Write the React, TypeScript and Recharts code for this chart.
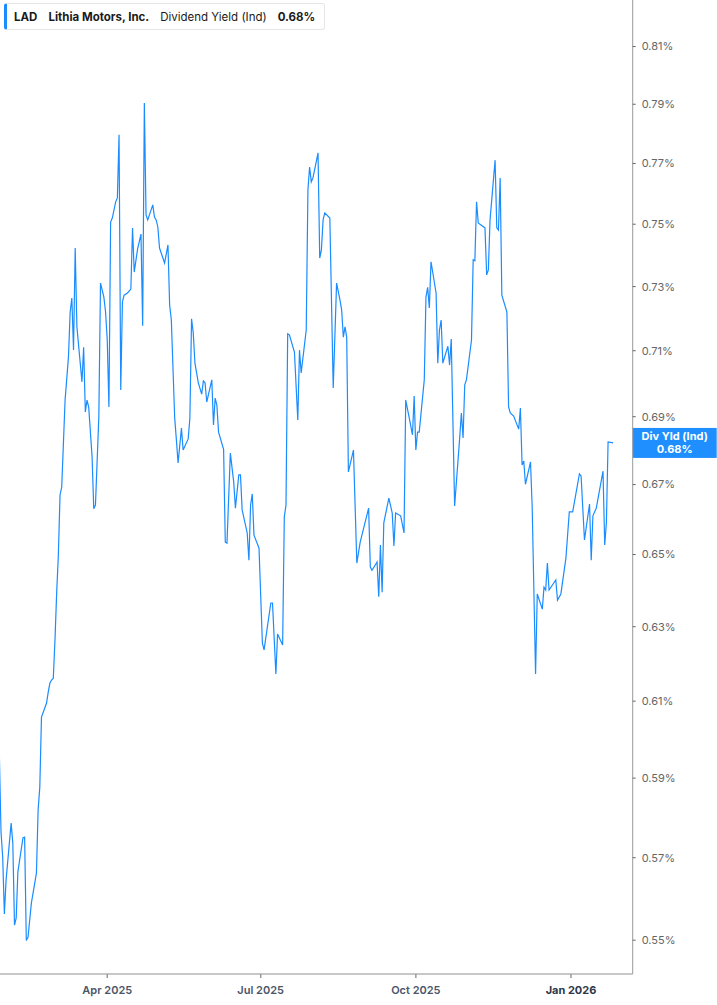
import React from 'react';
import { LineChart, Line, XAxis, YAxis, ReferenceLine } from 'recharts';

const dates = [
  '2025-01-27', '2025-01-28', '2025-01-29', '2025-01-30', '2025-01-31', '2025-02-03', '2025-02-04', '2025-02-05',
  '2025-02-06', '2025-02-07', '2025-02-10', '2025-02-11', '2025-02-12', '2025-02-13', '2025-02-15', '2025-02-18',
  '2025-02-19', '2025-02-20', '2025-02-21', '2025-02-24', '2025-02-25', '2025-02-26', '2025-02-27', '2025-02-28',
  '2025-03-01', '2025-03-02', '2025-03-03', '2025-03-04', '2025-03-05', '2025-03-07', '2025-03-09', '2025-03-10',
  '2025-03-11', '2025-03-12', '2025-03-13', '2025-03-14', '2025-03-17', '2025-03-18', '2025-03-19', '2025-03-20',
  '2025-03-21', '2025-03-23', '2025-03-24', '2025-03-25', '2025-03-27', '2025-03-28', '2025-03-30', '2025-03-31',
  '2025-04-01', '2025-04-02', '2025-04-03', '2025-04-04', '2025-04-06', '2025-04-07', '2025-04-08', '2025-04-09',
  '2025-04-10', '2025-04-11', '2025-04-13', '2025-04-15', '2025-04-16', '2025-04-17', '2025-04-19', '2025-04-21',
  '2025-04-22', '2025-04-23', '2025-04-24', '2025-04-25', '2025-04-28', '2025-04-29', '2025-04-30', '2025-05-01',
  '2025-05-02', '2025-05-05', '2025-05-07', '2025-05-08', '2025-05-09', '2025-05-11', '2025-05-12', '2025-05-13',
  '2025-05-15', '2025-05-16', '2025-05-19', '2025-05-20', '2025-05-21', '2025-05-22', '2025-05-23', '2025-05-25',
  '2025-05-27', '2025-05-28', '2025-05-29', '2025-05-30', '2025-06-02', '2025-06-03', '2025-06-04', '2025-06-05',
  '2025-06-06', '2025-06-09', '2025-06-10', '2025-06-11', '2025-06-13', '2025-06-15', '2025-06-16', '2025-06-18',
  '2025-06-19', '2025-06-20', '2025-06-23', '2025-06-24', '2025-06-25', '2025-06-26', '2025-06-27', '2025-06-30',
  '2025-07-02', '2025-07-03', '2025-07-07', '2025-07-08', '2025-07-10', '2025-07-11', '2025-07-14', '2025-07-15',
  '2025-07-16', '2025-07-17', '2025-07-18', '2025-07-21', '2025-07-23', '2025-07-24', '2025-07-25', '2025-07-28',
  '2025-07-29', '2025-07-30', '2025-07-31', '2025-08-01', '2025-08-04', '2025-08-05', '2025-08-06', '2025-08-07',
  '2025-08-08', '2025-08-11', '2025-08-13', '2025-08-15', '2025-08-17', '2025-08-18', '2025-08-19', '2025-08-20',
  '2025-08-21', '2025-08-22', '2025-08-25', '2025-08-27', '2025-08-29', '2025-09-03', '2025-09-04', '2025-09-05',
  '2025-09-08', '2025-09-09', '2025-09-10', '2025-09-11', '2025-09-12', '2025-09-15', '2025-09-17', '2025-09-18',
  '2025-09-19', '2025-09-22', '2025-09-24', '2025-09-25', '2025-09-27', '2025-09-29', '2025-09-30', '2025-10-01',
  '2025-10-02', '2025-10-03', '2025-10-06', '2025-10-07', '2025-10-08', '2025-10-09', '2025-10-10', '2025-10-13',
  '2025-10-14', '2025-10-15', '2025-10-16', '2025-10-17', '2025-10-20', '2025-10-21', '2025-10-22', '2025-10-24',
  '2025-10-27', '2025-10-28', '2025-10-29', '2025-10-30', '2025-10-31', '2025-11-03', '2025-11-04', '2025-11-05',
  '2025-11-06', '2025-11-07', '2025-11-11', '2025-11-12', '2025-11-13', '2025-11-14', '2025-11-17', '2025-11-18',
  '2025-11-19', '2025-11-20', '2025-11-21', '2025-11-24', '2025-11-25', '2025-11-26', '2025-11-28', '2025-12-01',
  '2025-12-02', '2025-12-03', '2025-12-04', '2025-12-05', '2025-12-08', '2025-12-09', '2025-12-11', '2025-12-12',
  '2025-12-15', '2025-12-16', '2025-12-17', '2025-12-18', '2025-12-19', '2025-12-23', '2025-12-24', '2025-12-26',
  '2025-12-29', '2025-12-31', '2026-01-02', '2026-01-06', '2026-01-07', '2026-01-09', '2026-01-12', '2026-01-13',
  '2026-01-14', '2026-01-16', '2026-01-20', '2026-01-21', '2026-01-22', '2026-01-23', '2026-01-26',
];

// dividend yield, percent
const yields = [
  0.5962, 0.5764, 0.5701, 0.5563, 0.5645, 0.5786, 0.5736, 0.5536,
  0.5553, 0.5665, 0.5749, 0.5751, 0.5499, 0.5507, 0.5589, 0.5662,
  0.5819, 0.5877, 0.6058, 0.6095, 0.6124, 0.6148, 0.6156, 0.6161,
  0.6263, 0.6393, 0.6498, 0.6670, 0.6693, 0.6950, 0.7081, 0.7220,
  0.7264, 0.7102, 0.7423, 0.7174, 0.7005, 0.7111, 0.6914, 0.6950,
  0.6929, 0.6781, 0.6630, 0.6641, 0.6898, 0.7311, 0.7267, 0.7220,
  0.7133, 0.6929, 0.7507, 0.7520, 0.7573, 0.7586, 0.7796, 0.6980,
  0.7252, 0.7273, 0.7280, 0.7292, 0.7488, 0.7346, 0.7420, 0.7468,
  0.7177, 0.7904, 0.7530, 0.7514, 0.7563, 0.7523, 0.7514, 0.7491,
  0.7423, 0.7375, 0.7433, 0.7242, 0.7195, 0.6896, 0.6831, 0.6763,
  0.6866, 0.6801, 0.6834, 0.6896, 0.7199, 0.7155, 0.7062, 0.7002,
  0.6968, 0.7008, 0.7002, 0.6944, 0.7011, 0.6875, 0.6956, 0.6935,
  0.6854, 0.6803, 0.6535, 0.6532, 0.6792, 0.6707, 0.6632, 0.6728,
  0.6728, 0.6627, 0.6561, 0.6484, 0.6641, 0.6673, 0.6555, 0.6518,
  0.6255, 0.6237, 0.6365, 0.6365, 0.6172, 0.6280, 0.6250, 0.6607,
  0.6641, 0.7152, 0.7149, 0.7096, 0.6890, 0.7102, 0.7032, 0.7164,
  0.7612, 0.7688, 0.7639, 0.7652, 0.7735, 0.7391, 0.7417, 0.7514,
  0.7537, 0.7520, 0.6986, 0.7311, 0.7258, 0.7227, 0.7142, 0.7174,
  0.7142, 0.6737, 0.6801, 0.6476, 0.6535, 0.6632, 0.6465, 0.6456,
  0.6479, 0.6382, 0.6527, 0.6395, 0.6590, 0.6661, 0.6618, 0.6524,
  0.6618, 0.6610, 0.6561, 0.6950, 0.6899, 0.6846, 0.6962, 0.6801,
  0.6854, 0.6854, 0.7011, 0.7267, 0.7298, 0.7233, 0.7379, 0.7280,
  0.7062, 0.7164, 0.7195, 0.7062, 0.7114, 0.7056, 0.7136, 0.6638,
  0.6837, 0.6911, 0.6837, 0.6996, 0.7011, 0.7133, 0.7385, 0.7382,
  0.7573, 0.7504, 0.7488, 0.7337, 0.7353, 0.7514, 0.7711, 0.7488,
  0.7481, 0.7652, 0.7273, 0.7220, 0.6929, 0.6911, 0.6902, 0.6863,
  0.6926, 0.6757, 0.6769, 0.6701, 0.6766, 0.6635, 0.6172, 0.6390,
  0.6348, 0.6409, 0.6401, 0.6476, 0.6401, 0.6429, 0.6373, 0.6390,
  0.6490, 0.6621, 0.6621, 0.6731, 0.6725, 0.6541, 0.6644, 0.6484,
  0.6610, 0.6632, 0.6739, 0.6527, 0.6590, 0.6825, 0.6822,
];

const xTickDates = ['2025-04-01', '2025-07-01', '2025-10-01', '2026-01-01'];
const xTickLabels = ['Apr 2025', 'Jul 2025', 'Oct 2025', 'Jan 2026'];
const yTicks = [0.55, 0.57, 0.59, 0.61, 0.63, 0.65, 0.67, 0.69, 0.71, 0.73, 0.75, 0.77, 0.79, 0.81];

const LINE_COLOR = '#1a8cff';
const FONT = 'Inter, "Noto Sans", sans-serif';

// days since 2025-04-01
const BASE = Date.parse('2025-04-01T00:00:00Z');
const toDay = (d: string) => (Date.parse(d + 'T00:00:00Z') - BASE) / 86400000;

const data = dates.map((d, i) => ({ t: toDay(d), v: yields[i] }));
const xTicks = xTickDates.map(toDay);
const last = yields[yields.length - 1];

// year-start ticks are drawn heavier, like the source chart
const DateTick = ({ x, y, payload }: any) => {
  const i = xTicks.indexOf(payload.value);
  const label = xTickLabels[i] ?? '';
  const yearStart = xTickDates[i]?.endsWith('-01-01');
  return (
    <text
      x={x}
      y={y}
      dy={7.5}
      textAnchor="middle"
      fontSize={11}
      fontFamily={FONT}
      fontWeight={yearStart ? 700 : 600}
      fill={yearStart ? '#2d3748' : '#4a5568'}
    >
      {label}
    </text>
  );
};

const ValueTag = ({ viewBox }: any) => {
  if (!viewBox) return null;
  const x = viewBox.x + viewBox.width;
  const y = viewBox.y;
  return (
    <g>
      <rect x={x} y={y - 15} width={84} height={30} fill="#1f8fff" />
      <text x={x + 42} y={y - 3} textAnchor="middle" fill="#fff" fontSize={11} fontWeight={700} fontFamily={FONT}>
        Div Yld (Ind)
      </text>
      <text x={x + 42} y={y + 10} textAnchor="middle" fill="#fff" fontSize={11} fontWeight={700} fontFamily={FONT}>
        {last.toFixed(2)}%
      </text>
    </g>
  );
};

export default function App() {
  return (
    <div style={{ position: 'absolute', left: 0, top: 0, width: 717, height: 1005, background: '#fff', fontFamily: FONT }}>
      <LineChart width={717} height={1005} data={data} margin={{ top: 0, right: 0, bottom: 0, left: 0 }}>
        <XAxis
          dataKey="t"
          type="number"
          domain={[-63.6, 311.6]}
          allowDataOverflow
          ticks={xTicks}
          height={31}
          stroke="#b5b5b5"
          strokeWidth={1.5}
          tickSize={4}
          tickMargin={8}
          tickLine={{ stroke: '#999' }}
          tick={<DateTick />}
        />
        <YAxis
          type="number"
          scale="log"
          orientation="right"
          domain={[0.542, 0.8265]}
          allowDataOverflow
          ticks={yTicks}
          tickFormatter={(v: number) => `${v.toFixed(2)}%`}
          width={84.3}
          stroke="#999"
          tickSize={3}
          tickMargin={6}
          tickLine={{ stroke: '#666' }}
          tick={{ fontSize: 11, fill: '#666', fontFamily: FONT }}
        />
        <ReferenceLine y={last} stroke="none" label={<ValueTag />} />
        <Line
          type="linear"
          dataKey="v"
          stroke={LINE_COLOR}
          strokeWidth={1.2}
          dot={false}
          isAnimationActive={false}
        />
      </LineChart>
      <div
        style={{
          position: 'absolute', left: 4, top: 3, height: 27, width: 321,
          display: 'flex', alignItems: 'center', gap: 11,
          background: '#fff', border: '1px solid #e6e6e6', borderLeft: `3px solid ${LINE_COLOR}`,
          borderRadius: 3, boxSizing: 'border-box', padding: '0 7px', fontSize: 11.5, color: '#1a1a1a',
          whiteSpace: 'nowrap',
        }}
      >
        <span style={{ fontWeight: 700 }}>LAD</span>
        <span style={{ fontWeight: 700 }}>Lithia Motors, Inc.</span>
        <span>Dividend Yield (Ind)</span>
        <span style={{ fontWeight: 700 }}>{last.toFixed(2)}%</span>
      </div>
    </div>
  );
}
